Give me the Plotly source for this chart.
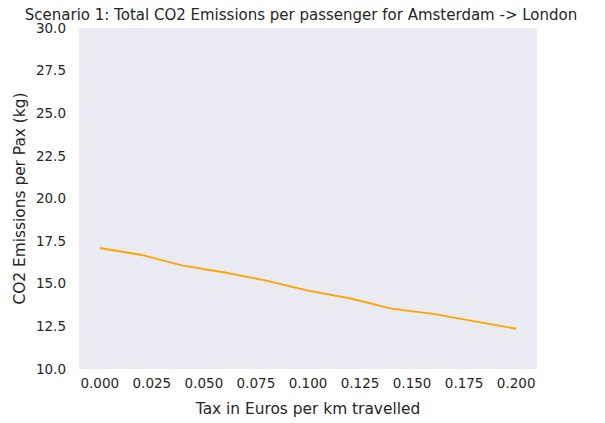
import plotly.graph_objects as go

tax = [0.00, 0.02, 0.04, 0.06, 0.08, 0.10, 0.12, 0.14, 0.16, 0.18, 0.20]
co2 = [17.10, 16.69, 16.06, 15.66, 15.18, 14.60, 14.15, 13.54, 13.23, 12.79, 12.36]

y_ticks = [10.0, 12.5, 15.0, 17.5, 20.0, 22.5, 25.0, 27.5, 30.0]
x_ticks = [0.0, 0.025, 0.05, 0.075, 0.1, 0.125, 0.15, 0.175, 0.2]

W, H = 605, 423

fig = go.Figure()
fig.add_trace(go.Scatter(x=tax, y=co2, mode="lines",
                         line=dict(color="#FFA500", width=1.9)))

fig.update_layout(
    width=W, height=H,
    margin=dict(l=79, r=68, t=28, b=54, autoexpand=False),
    paper_bgcolor="white", plot_bgcolor="#EAEAF2",
    font=dict(family="DejaVu Sans", size=13, color="#262626"), showlegend=False,
    title=dict(text="Scenario 1: Total CO2 Emissions per passenger for Amsterdam -> London",
               x=301 / W, xanchor="center", y=1 - 15 / H, yanchor="middle",
               font=dict(family="DejaVu Sans", size=15, color="#262626")),
)
fig.update_xaxes(range=[-0.01, 0.21], tickvals=x_ticks,
                 ticktext=[f"{v:.3f}" for v in x_ticks], automargin=False,
                 showgrid=False, zeroline=False, showline=False, ticks="",
                 ticklabelstandoff=4,
                 title=dict(text="Tax in Euros per km travelled", standoff=13,
                            font=dict(size=15.4)),
                 tickfont=dict(size=13.5))
fig.update_yaxes(range=[10, 30], tickvals=y_ticks,
                 ticktext=[f"{v:.1f}" for v in y_ticks], automargin=False,
                 showgrid=False, zeroline=False, showline=False, ticks="",
                 ticklabelstandoff=12,
                 title=dict(text="CO2 Emissions per Pax (kg)", standoff=6,
                            font=dict(size=15.4)),
                 tickfont=dict(size=13.5))

fig.write_html("out.html", config={"displayModeBar": False},
               post_script="document.body.style.margin='0';")
